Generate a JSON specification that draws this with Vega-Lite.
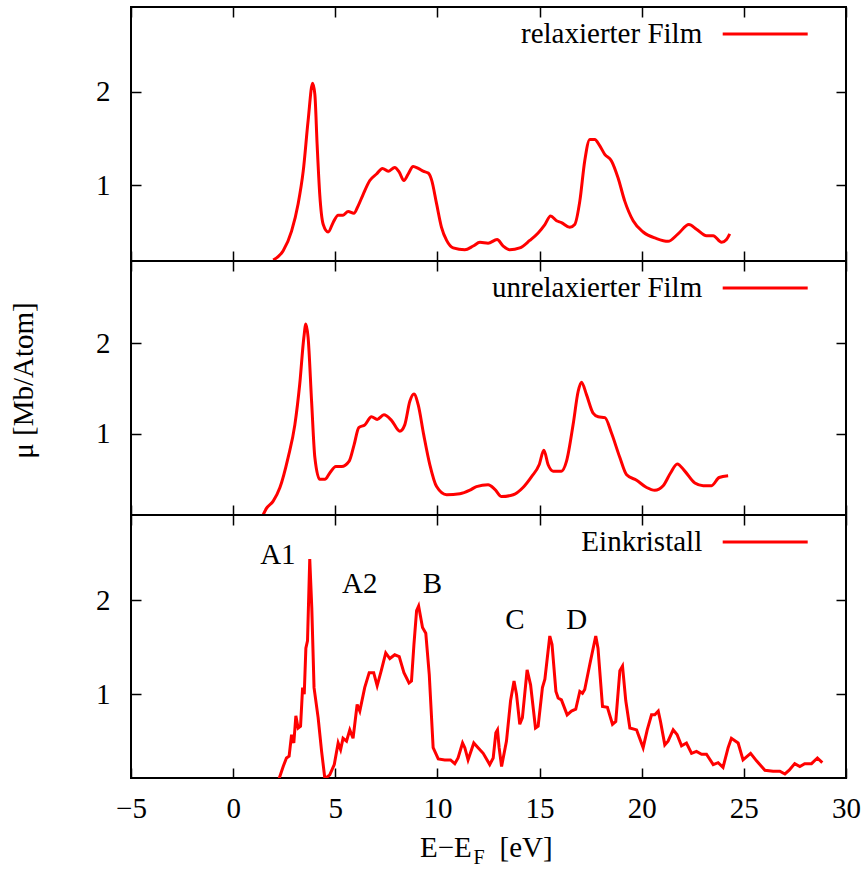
{
  "$schema": "https://vega.github.io/schema/vega-lite/v6.json",
  "background": "white",
  "padding": {"left": 8, "top": -11, "right": 5, "bottom": 0},
  "config": {
    "font": "Liberation Serif",
    "view": {"stroke": "black", "strokeWidth": 2},
    "axis": {"grid": false, "domain": false, "tickColor": "black", "tickWidth": 1.5, "tickSize": -10, "labelFontSize": 29, "labelColor": "black", "titleColor": "black", "labelFlush": false, "labelOverlap": false, "labelBound": false},
    "legend": {"title": null, "orient": "none", "legendX": 333.7, "legendY": -17, "symbolType": "stroke", "symbolSize": 7225, "symbolStrokeWidth": 3, "labelFontSize": 29, "labelAlign": "right", "labelOffset": -107, "symbolOffset": 256.5, "labelLimit": 500, "padding": 0, "labelColor": "black"},
    "text": {"font": "Liberation Serif", "fontSize": 29, "color": "black"}
  },
  "datasets": {
    "relax": [
      {"s":"relaxierter Film","E":1.96,"mu":0.20},{"s":"relaxierter Film","E":2.45,"mu":0.30},{"s":"relaxierter Film","E":2.86,"mu":0.51},{"s":"relaxierter Film","E":3.18,"mu":0.80},{"s":"relaxierter Film","E":3.43,"mu":1.15},{"s":"relaxierter Film","E":3.67,"mu":1.69},{"s":"relaxierter Film","E":3.89,"mu":2.09},{"s":"relaxierter Film","E":4.0,"mu":1.97},{"s":"relaxierter Film","E":4.11,"mu":1.44},{"s":"relaxierter Film","E":4.24,"mu":0.90},{"s":"relaxierter Film","E":4.41,"mu":0.58},{"s":"relaxierter Film","E":4.65,"mu":0.50},{"s":"relaxierter Film","E":4.89,"mu":0.60},{"s":"relaxierter Film","E":5.14,"mu":0.68},{"s":"relaxierter Film","E":5.38,"mu":0.68},{"s":"relaxierter Film","E":5.63,"mu":0.72},{"s":"relaxierter Film","E":5.91,"mu":0.70},{"s":"relaxierter Film","E":6.12,"mu":0.78},{"s":"relaxierter Film","E":6.36,"mu":0.90},{"s":"relaxierter Film","E":6.69,"mu":1.05},{"s":"relaxierter Film","E":7.02,"mu":1.12},{"s":"relaxierter Film","E":7.31,"mu":1.18},{"s":"relaxierter Film","E":7.59,"mu":1.15},{"s":"relaxierter Film","E":7.91,"mu":1.19},{"s":"relaxierter Film","E":8.13,"mu":1.14},{"s":"relaxierter Film","E":8.36,"mu":1.05},{"s":"relaxierter Film","E":8.57,"mu":1.12},{"s":"relaxierter Film","E":8.81,"mu":1.20},{"s":"relaxierter Film","E":9.06,"mu":1.18},{"s":"relaxierter Film","E":9.30,"mu":1.15},{"s":"relaxierter Film","E":9.55,"mu":1.13},{"s":"relaxierter Film","E":9.71,"mu":1.06},{"s":"relaxierter Film","E":9.96,"mu":0.80},{"s":"relaxierter Film","E":10.20,"mu":0.55},{"s":"relaxierter Film","E":10.45,"mu":0.41},{"s":"relaxierter Film","E":10.77,"mu":0.33},{"s":"relaxierter Film","E":11.34,"mu":0.31},{"s":"relaxierter Film","E":11.75,"mu":0.35},{"s":"relaxierter Film","E":12.08,"mu":0.39},{"s":"relaxierter Film","E":12.48,"mu":0.38},{"s":"relaxierter Film","E":12.92,"mu":0.42},{"s":"relaxierter Film","E":13.22,"mu":0.35},{"s":"relaxierter Film","E":13.54,"mu":0.31},{"s":"relaxierter Film","E":14.03,"mu":0.33},{"s":"relaxierter Film","E":14.52,"mu":0.41},{"s":"relaxierter Film","E":14.93,"mu":0.49},{"s":"relaxierter Film","E":15.26,"mu":0.58},{"s":"relaxierter Film","E":15.54,"mu":0.67},{"s":"relaxierter Film","E":15.83,"mu":0.62},{"s":"relaxierter Film","E":16.07,"mu":0.60},{"s":"relaxierter Film","E":16.48,"mu":0.55},{"s":"relaxierter Film","E":16.72,"mu":0.58},{"s":"relaxierter Film","E":16.97,"mu":0.83},{"s":"relaxierter Film","E":17.21,"mu":1.26},{"s":"relaxierter Film","E":17.46,"mu":1.49},{"s":"relaxierter Film","E":17.70,"mu":1.49},{"s":"relaxierter Film","E":17.95,"mu":1.42},{"s":"relaxierter Film","E":18.19,"mu":1.33},{"s":"relaxierter Film","E":18.52,"mu":1.26},{"s":"relaxierter Film","E":18.84,"mu":1.08},{"s":"relaxierter Film","E":19.17,"mu":0.83},{"s":"relaxierter Film","E":19.58,"mu":0.62},{"s":"relaxierter Film","E":20.07,"mu":0.50},{"s":"relaxierter Film","E":20.72,"mu":0.43},{"s":"relaxierter Film","E":21.29,"mu":0.40},{"s":"relaxierter Film","E":21.78,"mu":0.48},{"s":"relaxierter Film","E":22.31,"mu":0.58},{"s":"relaxierter Film","E":22.68,"mu":0.53},{"s":"relaxierter Film","E":23.17,"mu":0.46},{"s":"relaxierter Film","E":23.50,"mu":0.46},{"s":"relaxierter Film","E":23.91,"mu":0.39},{"s":"relaxierter Film","E":24.15,"mu":0.42},{"s":"relaxierter Film","E":24.31,"mu":0.48}
    ],
    "unrelax": [
      {"s":"unrelaxierter Film","E":1.47,"mu":0.11},{"s":"unrelaxierter Film","E":1.63,"mu":0.18},{"s":"unrelaxierter Film","E":1.96,"mu":0.26},{"s":"unrelaxierter Film","E":2.29,"mu":0.41},{"s":"unrelaxierter Film","E":2.69,"mu":0.74},{"s":"unrelaxierter Film","E":3.02,"mu":1.10},{"s":"unrelaxierter Film","E":3.26,"mu":1.55},{"s":"unrelaxierter Film","E":3.46,"mu":2.06},{"s":"unrelaxierter Film","E":3.56,"mu":2.21},{"s":"unrelaxierter Film","E":3.67,"mu":2.06},{"s":"unrelaxierter Film","E":3.84,"mu":1.36},{"s":"unrelaxierter Film","E":4.0,"mu":0.74},{"s":"unrelaxierter Film","E":4.24,"mu":0.50},{"s":"unrelaxierter Film","E":4.49,"mu":0.50},{"s":"unrelaxierter Film","E":4.73,"mu":0.57},{"s":"unrelaxierter Film","E":5.03,"mu":0.64},{"s":"unrelaxierter Film","E":5.31,"mu":0.64},{"s":"unrelaxierter Film","E":5.68,"mu":0.70},{"s":"unrelaxierter Film","E":5.92,"mu":0.88},{"s":"unrelaxierter Film","E":6.15,"mu":1.07},{"s":"unrelaxierter Film","E":6.45,"mu":1.10},{"s":"unrelaxierter Film","E":6.77,"mu":1.19},{"s":"unrelaxierter Film","E":7.05,"mu":1.16},{"s":"unrelaxierter Film","E":7.38,"mu":1.21},{"s":"unrelaxierter Film","E":7.75,"mu":1.15},{"s":"unrelaxierter Film","E":8.16,"mu":1.03},{"s":"unrelaxierter Film","E":8.40,"mu":1.10},{"s":"unrelaxierter Film","E":8.65,"mu":1.36},{"s":"unrelaxierter Film","E":8.85,"mu":1.44},{"s":"unrelaxierter Film","E":9.06,"mu":1.32},{"s":"unrelaxierter Film","E":9.33,"mu":0.99},{"s":"unrelaxierter Film","E":9.63,"mu":0.66},{"s":"unrelaxierter Film","E":9.96,"mu":0.42},{"s":"unrelaxierter Film","E":10.45,"mu":0.33},{"s":"unrelaxierter Film","E":11.10,"mu":0.34},{"s":"unrelaxierter Film","E":11.59,"mu":0.38},{"s":"unrelaxierter Film","E":11.91,"mu":0.42},{"s":"unrelaxierter Film","E":12.48,"mu":0.44},{"s":"unrelaxierter Film","E":12.81,"mu":0.39},{"s":"unrelaxierter Film","E":13.14,"mu":0.31},{"s":"unrelaxierter Film","E":13.71,"mu":0.33},{"s":"unrelaxierter Film","E":14.19,"mu":0.41},{"s":"unrelaxierter Film","E":14.61,"mu":0.53},{"s":"unrelaxierter Film","E":14.98,"mu":0.66},{"s":"unrelaxierter Film","E":15.21,"mu":0.82},{"s":"unrelaxierter Film","E":15.42,"mu":0.66},{"s":"unrelaxierter Film","E":15.66,"mu":0.59},{"s":"unrelaxierter Film","E":16.07,"mu":0.59},{"s":"unrelaxierter Film","E":16.32,"mu":0.70},{"s":"unrelaxierter Film","E":16.64,"mu":1.10},{"s":"unrelaxierter Film","E":16.89,"mu":1.47},{"s":"unrelaxierter Film","E":17.05,"mu":1.57},{"s":"unrelaxierter Film","E":17.30,"mu":1.43},{"s":"unrelaxierter Film","E":17.62,"mu":1.23},{"s":"unrelaxierter Film","E":17.87,"mu":1.19},{"s":"unrelaxierter Film","E":18.20,"mu":1.18},{"s":"unrelaxierter Film","E":18.52,"mu":1.01},{"s":"unrelaxierter Film","E":18.93,"mu":0.74},{"s":"unrelaxierter Film","E":19.26,"mu":0.55},{"s":"unrelaxierter Film","E":19.75,"mu":0.49},{"s":"unrelaxierter Film","E":20.24,"mu":0.41},{"s":"unrelaxierter Film","E":20.64,"mu":0.38},{"s":"unrelaxierter Film","E":21.05,"mu":0.43},{"s":"unrelaxierter Film","E":21.41,"mu":0.57},{"s":"unrelaxierter Film","E":21.74,"mu":0.67},{"s":"unrelaxierter Film","E":22.11,"mu":0.59},{"s":"unrelaxierter Film","E":22.60,"mu":0.46},{"s":"unrelaxierter Film","E":23.01,"mu":0.43},{"s":"unrelaxierter Film","E":23.42,"mu":0.43},{"s":"unrelaxierter Film","E":23.79,"mu":0.52},{"s":"unrelaxierter Film","E":24.23,"mu":0.54}
    ],
    "ein": [
      {"s":"Einkristall","E":2.25,"mu":0.10},{"s":"Einkristall","E":2.45,"mu":0.23},{"s":"Einkristall","E":2.61,"mu":0.32},{"s":"Einkristall","E":2.74,"mu":0.34},{"s":"Einkristall","E":2.86,"mu":0.57},{"s":"Einkristall","E":2.97,"mu":0.48},{"s":"Einkristall","E":3.07,"mu":0.77},{"s":"Einkristall","E":3.18,"mu":0.64},{"s":"Einkristall","E":3.30,"mu":0.66},{"s":"Einkristall","E":3.40,"mu":1.07},{"s":"Einkristall","E":3.48,"mu":1.00},{"s":"Einkristall","E":3.56,"mu":1.49},{"s":"Einkristall","E":3.64,"mu":1.57},{"s":"Einkristall","E":3.75,"mu":2.44},{"s":"Einkristall","E":3.85,"mu":1.92},{"s":"Einkristall","E":3.96,"mu":1.07},{"s":"Einkristall","E":4.16,"mu":0.75},{"s":"Einkristall","E":4.33,"mu":0.39},{"s":"Einkristall","E":4.49,"mu":0.10},{"s":"Einkristall","E":4.73,"mu":0.14},{"s":"Einkristall","E":4.95,"mu":0.25},{"s":"Einkristall","E":5.14,"mu":0.48},{"s":"Einkristall","E":5.26,"mu":0.41},{"s":"Einkristall","E":5.38,"mu":0.53},{"s":"Einkristall","E":5.55,"mu":0.50},{"s":"Einkristall","E":5.71,"mu":0.62},{"s":"Einkristall","E":5.87,"mu":0.53},{"s":"Einkristall","E":6.07,"mu":0.89},{"s":"Einkristall","E":6.20,"mu":0.82},{"s":"Einkristall","E":6.44,"mu":1.07},{"s":"Einkristall","E":6.66,"mu":1.23},{"s":"Einkristall","E":6.88,"mu":1.23},{"s":"Einkristall","E":7.05,"mu":1.09},{"s":"Einkristall","E":7.26,"mu":1.26},{"s":"Einkristall","E":7.47,"mu":1.44},{"s":"Einkristall","E":7.67,"mu":1.38},{"s":"Einkristall","E":7.91,"mu":1.42},{"s":"Einkristall","E":8.13,"mu":1.40},{"s":"Einkristall","E":8.36,"mu":1.23},{"s":"Einkristall","E":8.61,"mu":1.12},{"s":"Einkristall","E":8.73,"mu":1.14},{"s":"Einkristall","E":8.85,"mu":1.53},{"s":"Einkristall","E":8.98,"mu":1.89},{"s":"Einkristall","E":9.08,"mu":1.94},{"s":"Einkristall","E":9.27,"mu":1.71},{"s":"Einkristall","E":9.43,"mu":1.65},{"s":"Einkristall","E":9.60,"mu":1.21},{"s":"Einkristall","E":9.79,"mu":0.43},{"s":"Einkristall","E":10.04,"mu":0.31},{"s":"Einkristall","E":10.36,"mu":0.30},{"s":"Einkristall","E":10.64,"mu":0.30},{"s":"Einkristall","E":10.85,"mu":0.26},{"s":"Einkristall","E":11.01,"mu":0.32},{"s":"Einkristall","E":11.23,"mu":0.48},{"s":"Einkristall","E":11.34,"mu":0.43},{"s":"Einkristall","E":11.50,"mu":0.30},{"s":"Einkristall","E":11.78,"mu":0.48},{"s":"Einkristall","E":11.99,"mu":0.43},{"s":"Einkristall","E":12.24,"mu":0.37},{"s":"Einkristall","E":12.56,"mu":0.25},{"s":"Einkristall","E":12.73,"mu":0.32},{"s":"Einkristall","E":12.86,"mu":0.59},{"s":"Einkristall","E":12.94,"mu":0.62},{"s":"Einkristall","E":13.02,"mu":0.43},{"s":"Einkristall","E":13.14,"mu":0.23},{"s":"Einkristall","E":13.38,"mu":0.50},{"s":"Einkristall","E":13.58,"mu":0.93},{"s":"Einkristall","E":13.75,"mu":1.14},{"s":"Einkristall","E":13.87,"mu":1.00},{"s":"Einkristall","E":14.03,"mu":0.68},{"s":"Einkristall","E":14.16,"mu":0.75},{"s":"Einkristall","E":14.39,"mu":1.26},{"s":"Einkristall","E":14.56,"mu":1.10},{"s":"Einkristall","E":14.80,"mu":0.64},{"s":"Einkristall","E":14.93,"mu":0.66},{"s":"Einkristall","E":15.14,"mu":1.07},{"s":"Einkristall","E":15.26,"mu":1.16},{"s":"Einkristall","E":15.50,"mu":1.62},{"s":"Einkristall","E":15.61,"mu":1.53},{"s":"Einkristall","E":15.80,"mu":1.03},{"s":"Einkristall","E":15.91,"mu":0.96},{"s":"Einkristall","E":16.07,"mu":0.94},{"s":"Einkristall","E":16.35,"mu":0.78},{"s":"Einkristall","E":16.56,"mu":0.82},{"s":"Einkristall","E":16.77,"mu":0.84},{"s":"Einkristall","E":16.97,"mu":1.03},{"s":"Einkristall","E":17.10,"mu":1.01},{"s":"Einkristall","E":17.21,"mu":1.05},{"s":"Einkristall","E":17.46,"mu":1.32},{"s":"Einkristall","E":17.75,"mu":1.62},{"s":"Einkristall","E":17.86,"mu":1.49},{"s":"Einkristall","E":18.08,"mu":0.87},{"s":"Einkristall","E":18.32,"mu":0.86},{"s":"Einkristall","E":18.57,"mu":0.68},{"s":"Einkristall","E":18.73,"mu":0.71},{"s":"Einkristall","E":18.93,"mu":1.25},{"s":"Einkristall","E":19.06,"mu":1.30},{"s":"Einkristall","E":19.22,"mu":0.93},{"s":"Einkristall","E":19.42,"mu":0.64},{"s":"Einkristall","E":19.75,"mu":0.62},{"s":"Einkristall","E":20.07,"mu":0.43},{"s":"Einkristall","E":20.27,"mu":0.62},{"s":"Einkristall","E":20.48,"mu":0.78},{"s":"Einkristall","E":20.64,"mu":0.78},{"s":"Einkristall","E":20.81,"mu":0.82},{"s":"Einkristall","E":20.92,"mu":0.71},{"s":"Einkristall","E":21.13,"mu":0.46},{"s":"Einkristall","E":21.29,"mu":0.50},{"s":"Einkristall","E":21.54,"mu":0.62},{"s":"Einkristall","E":21.73,"mu":0.57},{"s":"Einkristall","E":21.95,"mu":0.45},{"s":"Einkristall","E":22.19,"mu":0.48},{"s":"Einkristall","E":22.44,"mu":0.37},{"s":"Einkristall","E":22.68,"mu":0.39},{"s":"Einkristall","E":22.93,"mu":0.36},{"s":"Einkristall","E":23.17,"mu":0.36},{"s":"Einkristall","E":23.50,"mu":0.25},{"s":"Einkristall","E":23.74,"mu":0.27},{"s":"Einkristall","E":23.98,"mu":0.22},{"s":"Einkristall","E":24.23,"mu":0.43},{"s":"Einkristall","E":24.39,"mu":0.53},{"s":"Einkristall","E":24.72,"mu":0.48},{"s":"Einkristall","E":24.96,"mu":0.30},{"s":"Einkristall","E":25.33,"mu":0.37},{"s":"Einkristall","E":25.62,"mu":0.29},{"s":"Einkristall","E":26.03,"mu":0.19},{"s":"Einkristall","E":26.43,"mu":0.18},{"s":"Einkristall","E":26.76,"mu":0.18},{"s":"Einkristall","E":27.01,"mu":0.15},{"s":"Einkristall","E":27.22,"mu":0.19},{"s":"Einkristall","E":27.49,"mu":0.26},{"s":"Einkristall","E":27.74,"mu":0.23},{"s":"Einkristall","E":27.98,"mu":0.26},{"s":"Einkristall","E":28.31,"mu":0.26},{"s":"Einkristall","E":28.60,"mu":0.32},{"s":"Einkristall","E":28.84,"mu":0.27}
    ],
    "peaks": [
      {"E":2.19,"mu":2.39,"label":"A1"},{"E":6.20,"mu":2.08,"label":"A2"},{"E":9.75,"mu":2.08,"label":"B"},{"E":13.79,"mu":1.69,"label":"C"},{"E":16.82,"mu":1.69,"label":"D"}
    ]
  },
  "bounds": "flush",
  "spacing": 0,
  "resolve": {"scale": {"color": "independent"}, "legend": {"color": "independent"}},
  "vconcat": [
    {
      "width": 715, "height": 254,
      "data": {"name": "relax"},
      "layer": [
        {
          "mark": {"type": "line", "strokeWidth": 3, "interpolate": "monotone", "clip": true},
          "encoding": {
            "x": {"field": "E", "type": "quantitative", "scale": {"domain": [-5, 30], "nice": false, "zero": false}, "axis": {"orient": "bottom", "values": [-5,0,5,10,15,20,25,30], "labels": false, "title": null}},
            "y": {"field": "mu", "type": "quantitative", "scale": {"domain": [0.19, 2.905], "nice": false, "zero": false}, "axis": {"orient": "left", "values": [1,2], "labelPadding": 31, "title": null}},
            "color": {"field": "s", "type": "nominal", "scale": {"range": ["#ff0000"]}}
          }
        },
        {
          "mark": {"type": "line", "opacity": 0},
          "encoding": {
            "x": {"field": "E", "type": "quantitative", "axis": {"orient": "top", "values": [-5,0,5,10,15,20,25,30], "labels": false, "title": null}},
            "y": {"field": "mu", "type": "quantitative", "axis": {"orient": "right", "values": [1,2], "labels": false, "title": null}}
          }
        }
      ],
      "resolve": {"axis": {"x": "independent", "y": "independent"}}
    },
    {
      "width": 715, "height": 254,
      "data": {"name": "unrelax"},
      "layer": [
        {
          "mark": {"type": "line", "strokeWidth": 3, "interpolate": "monotone", "clip": true},
          "encoding": {
            "x": {"field": "E", "type": "quantitative", "scale": {"domain": [-5, 30], "nice": false, "zero": false}, "axis": {"orient": "bottom", "values": [-5,0,5,10,15,20,25,30], "labels": false, "title": null}},
            "y": {"field": "mu", "type": "quantitative", "scale": {"domain": [0.107, 2.905], "nice": false, "zero": false}, "axis": {"orient": "left", "values": [1,2], "labelPadding": 31, "title": "μ [Mb/Atom]", "titleFontSize": 29, "titleFontWeight": "normal", "titleX": -99, "titleY": 119, "titleAngle": 270, "titleAlign": "center", "titleBaseline": "alphabetic"}},
            "color": {"field": "s", "type": "nominal", "scale": {"range": ["#ff0000"]}}
          }
        },
        {
          "mark": {"type": "line", "opacity": 0},
          "encoding": {
            "x": {"field": "E", "type": "quantitative", "axis": {"orient": "top", "values": [-5,0,5,10,15,20,25,30], "labels": false, "title": null}},
            "y": {"field": "mu", "type": "quantitative", "axis": {"orient": "right", "values": [1,2], "labels": false, "title": null}}
          }
        }
      ],
      "resolve": {"axis": {"x": "independent", "y": "independent"}}
    },
    {
      "width": 715, "height": 263,
      "layer": [
        {
          "data": {"name": "ein"},
          "mark": {"type": "line", "strokeWidth": 3, "clip": true},
          "encoding": {
            "x": {"field": "E", "type": "quantitative", "scale": {"domain": [-5, 30], "nice": false, "zero": false}, "axis": {"orient": "bottom", "values": [-5,0,5,10,15,20,25,30], "labelPadding": 26, "title": null}},
            "y": {"field": "mu", "type": "quantitative", "scale": {"domain": [0.107, 2.91], "nice": false, "zero": false}, "axis": {"orient": "left", "values": [1,2], "labelPadding": 31, "title": null}},
            "color": {"field": "s", "type": "nominal", "scale": {"range": ["#ff0000"]}}
          }
        },
        {
          "data": {"name": "ein"},
          "mark": {"type": "line", "opacity": 0},
          "encoding": {
            "x": {"field": "E", "type": "quantitative", "axis": {"orient": "top", "values": [-5,0,5,10,15,20,25,30], "labels": false, "title": null}},
            "y": {"field": "mu", "type": "quantitative", "axis": {"orient": "right", "values": [1,2], "labels": false, "title": null}}
          }
        },
        {
          "data": {"name": "peaks"},
          "mark": {"type": "text", "align": "center", "baseline": "alphabetic", "fontSize": 29},
          "encoding": {
            "x": {"field": "E", "type": "quantitative", "axis": null},
            "y": {"field": "mu", "type": "quantitative", "axis": null},
            "text": {"field": "label"}
          }
        },
        {
          "data": {"values": [{}]},
          "mark": {"type": "text", "text": "E−E", "align": "right", "baseline": "alphabetic", "fontSize": 29, "clip": false},
          "encoding": {
            "x": {"datum": 11.68, "type": "quantitative", "axis": null},
            "y": {"datum": -0.73, "type": "quantitative", "axis": null}
          }
        },
        {
          "data": {"values": [{}]},
          "mark": {"type": "text", "text": "F", "align": "left", "baseline": "alphabetic", "fontSize": 20, "clip": false},
          "encoding": {
            "x": {"datum": 11.77, "type": "quantitative", "axis": null},
            "y": {"datum": -0.805, "type": "quantitative", "axis": null}
          }
        },
        {
          "data": {"values": [{}]},
          "mark": {"type": "text", "text": "[eV]", "align": "left", "baseline": "alphabetic", "fontSize": 29, "clip": false},
          "encoding": {
            "x": {"datum": 13.04, "type": "quantitative", "axis": null},
            "y": {"datum": -0.73, "type": "quantitative", "axis": null}
          }
        }
      ],
      "resolve": {"axis": {"x": "independent", "y": "independent"}}
    }
  ]
}
